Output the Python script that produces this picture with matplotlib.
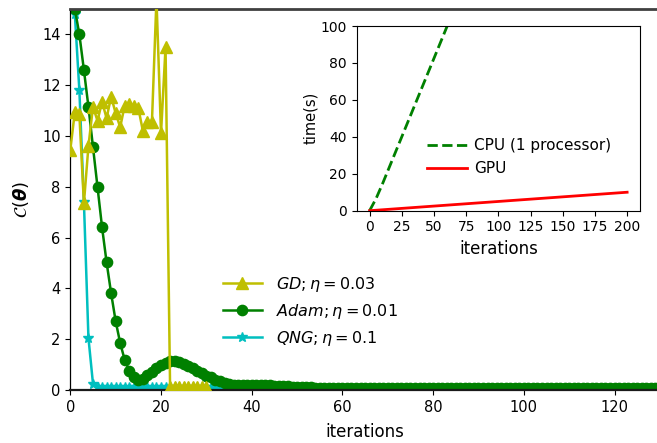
import matplotlib
matplotlib.use("Agg")
import matplotlib.pyplot as plt

# ---------------- data ----------------
gd_iters = list(range(0, 31))
gd_cost = [9.45, 10.95, 10.85, 7.35, 9.6, 11.15, 10.6, 11.35, 10.7, 11.55,
           10.9, 10.35, 11.2, 11.25, 11.2, 11.1, 10.2, 10.55, 10.55, 15.4,
           10.1, 13.5, 0.12, 0.1, 0.1, 0.1, 0.1, 0.1, 0.1, 0.1, 0.1]

adam_iters = list(range(0, 131))
adam_cost = [16.0, 15.0, 14.0, 12.6, 11.15, 9.57, 7.98, 6.41, 5.03, 3.81,
             2.71, 1.85, 1.18, 0.76, 0.50, 0.40, 0.42, 0.60, 0.72, 0.85,
             0.98, 1.07, 1.13, 1.14, 1.11, 1.04, 0.95, 0.85, 0.75, 0.66,
             0.57, 0.50, 0.41, 0.34, 0.27, 0.22, 0.20, 0.19, 0.18, 0.18,
             0.18, 0.18, 0.18, 0.18, 0.18, 0.17, 0.16, 0.15, 0.14, 0.13,
             0.12, 0.11, 0.10, 0.10, 0.09, 0.09, 0.08, 0.08, 0.08, 0.08,
             0.08, 0.08, 0.08, 0.08, 0.08, 0.08, 0.08, 0.08, 0.08, 0.08,
             0.08, 0.07, 0.07, 0.07, 0.07, 0.07, 0.07, 0.07, 0.07, 0.07,
             0.07, 0.07, 0.07, 0.07, 0.07, 0.07, 0.07, 0.07, 0.07, 0.07,
             0.07, 0.07, 0.07, 0.07, 0.07, 0.07, 0.07, 0.07, 0.07, 0.07,
             0.07, 0.07, 0.07, 0.07, 0.07, 0.07, 0.07, 0.07, 0.07, 0.07,
             0.07, 0.07, 0.07, 0.07, 0.07, 0.07, 0.07, 0.07, 0.07, 0.07,
             0.07, 0.07, 0.07, 0.07, 0.07, 0.07, 0.07, 0.07, 0.07, 0.07,
             0.07]

qng_iters = list(range(0, 41))
qng_cost = [16.5, 14.8, 11.8, 7.4, 2.05, 0.25, 0.1, 0.1, 0.1, 0.1,
            0.1, 0.1, 0.1, 0.1, 0.1, 0.1, 0.1, 0.1, 0.1, 0.1,
            0.1, 0.1, 0.1, 0.1, 0.1, 0.1, 0.1, 0.1, 0.1, 0.1,
            0.1, 0.1, 0.1, 0.1, 0.1, 0.1, 0.1, 0.1, 0.1, 0.1, 0.1]

labels = [r"$GD; \eta = 0.03$", r"$Adam; \eta = 0.01$", r"$QNG; \eta = 0.1$"]
main_xticks = [0, 20, 40, 60, 80, 100, 120]
main_yticks = [0, 2, 4, 6, 8, 10, 12, 14]

cpu_iters = [0, 5, 10, 15, 20, 25, 30, 35, 40, 45, 50, 55, 60, 65]
cpu_time = [0, 6.5, 14.5, 23, 31.5, 40, 48.5, 57, 65.5, 74, 82.5, 91, 99.5, 108]
gpu_iters = [0, 50, 100, 150, 200]
gpu_time = [0, 2.5, 5.0, 7.5, 10.0]
inset_labels = ["CPU (1 processor)", "GPU"]
inset_xticks = [0, 25, 50, 75, 100, 125, 150, 175, 200]
inset_yticks = [0, 20, 40, 60, 80, 100]

# ---------------- figure ----------------
fig = plt.figure(figsize=(6.57, 4.43), dpi=100)
ax = fig.add_axes([70.3 / 657, 53 / 443, 589.6 / 657, 381 / 443])

ax.plot(gd_iters, gd_cost, color="y", marker="^", markersize=8, lw=1.8,
        label=labels[0], zorder=3)
ax.plot(adam_iters, adam_cost, color="green", marker="o", markersize=7.4, lw=1.8,
        label=labels[1], zorder=2.5)
ax.plot(qng_iters, qng_cost, color="c", marker="*", markersize=7.5, lw=1.8,
        label=labels[2], zorder=2)

ax.set_xlim(0, 130)
ax.set_ylim(0, 15)
ax.set_xticks(main_xticks)
ax.set_yticks(main_yticks)
ax.tick_params(labelsize=10.5)
ax.set_xlabel("iterations", fontsize=12, labelpad=6)
ax.set_ylabel(r"$\mathcal{C}(\boldsymbol{\theta})$", fontsize=13, labelpad=8)
ax.spines["top"].set_linewidth(2.0)
ax.spines["top"].set_color("#404040")
ax.spines["bottom"].set_linewidth(1.6)
ax.spines["bottom"].set_color("#1a1a1a")
ax.spines["left"].set_linewidth(0.9)

ax.legend(loc="center left", bbox_to_anchor=(0.235, 0.207), frameon=False,
          fontsize=11.5, handlelength=2.4, handletextpad=0.9, labelspacing=0.5)

# ---------------- inset ----------------
ins = fig.add_axes([356.7 / 657, (443 - 210.7) / 443, 283.3 / 657, 184.7 / 443])
ins.plot(cpu_iters, cpu_time, color="green", ls="--", lw=2.0, label=inset_labels[0])
ins.plot(gpu_iters, gpu_time, color="red", ls="-", lw=2.0, label=inset_labels[1])
ins.set_xlim(-10, 210)
ins.set_ylim(0, 100)
ins.set_xticks(inset_xticks)
ins.set_yticks(inset_yticks)
ins.tick_params(labelsize=10)
ins.set_xlabel("iterations", fontsize=12)
ins.set_ylabel("time(s)", fontsize=10.5, labelpad=2)
ins.legend(loc="center left", bbox_to_anchor=(0.2, 0.29), frameon=False,
           fontsize=11, handlelength=2.6, handletextpad=0.5, labelspacing=0.55)

fig.savefig("out.png", dpi=100)
